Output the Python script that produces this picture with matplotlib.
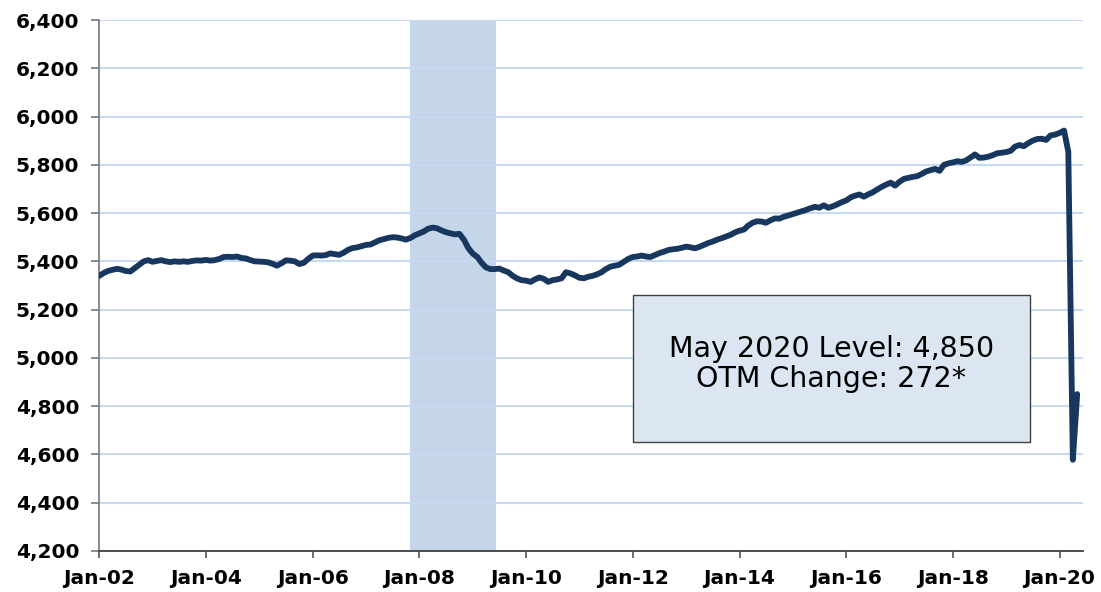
import numpy as np
import pandas as pd
import matplotlib
matplotlib.use('Agg')
import matplotlib.pyplot as plt
import matplotlib.dates as mdates
from matplotlib.patches import Rectangle

# Monthly employment level (thousands), Jan 2002 - May 2020
values = [
    5340, 5352, 5360, 5365, 5369, 5366, 5360, 5358, 5372, 5385, 5400, 5405,   # 2002
    5398, 5402, 5405, 5400, 5397, 5400, 5398, 5400, 5398, 5402, 5404, 5403,   # 2003
    5406, 5403, 5405, 5410, 5418, 5419, 5418, 5420, 5414, 5412, 5405, 5400,   # 2004
    5399, 5398, 5396, 5390, 5382, 5392, 5404, 5403, 5400, 5389, 5394, 5410,   # 2005
    5424, 5425, 5424, 5426, 5433, 5430, 5427, 5436, 5448, 5455, 5458, 5463,   # 2006
    5468, 5470, 5478, 5487, 5492, 5497, 5500, 5499, 5495, 5490, 5497, 5508,   # 2007
    5516, 5524, 5535, 5540, 5537, 5528, 5521, 5516, 5512, 5514, 5490, 5455,   # 2008
    5432, 5418, 5395, 5375, 5368, 5368, 5370, 5362, 5355, 5340, 5329, 5322,   # 2009
    5320, 5315, 5325, 5333, 5328, 5315, 5322, 5325, 5330, 5355, 5350, 5342,   # 2010
    5332, 5330, 5336, 5340, 5346, 5355, 5368, 5378, 5382, 5386, 5398, 5410,   # 2011
    5418, 5420, 5424, 5420, 5418, 5426, 5434, 5440, 5447, 5450, 5452, 5456,   # 2012
    5461, 5458, 5454, 5460, 5468, 5476, 5482, 5490, 5496, 5503, 5510, 5520,   # 2013
    5527, 5532, 5548, 5560, 5566, 5565, 5560, 5570, 5578, 5577, 5585, 5590,   # 2014
    5596, 5602, 5607, 5613, 5620, 5626, 5622, 5632, 5622, 5628, 5636, 5645,   # 2015
    5652, 5665, 5672, 5677, 5668, 5678, 5686, 5698, 5709, 5718, 5726, 5714,   # 2016
    5730, 5742, 5746, 5750, 5753, 5762, 5772, 5778, 5783, 5775, 5800, 5806,   # 2017
    5810, 5815, 5812, 5818, 5830, 5843, 5829, 5830, 5834, 5840, 5848, 5850,   # 2018
    5853, 5858, 5875, 5882, 5877, 5890, 5900, 5907, 5908, 5903, 5922, 5925,   # 2019
    5932, 5942, 5854, 4578, 4850,                                             # 2020
]
dates = pd.date_range('2002-01-01', periods=len(values), freq='MS')

rec_start = pd.Timestamp('2007-11-01')
rec_end = pd.Timestamp('2009-06-10')

y_ticks = list(range(4200, 6401, 200))
x_ticks = pd.date_range('2002-01-01', '2020-01-01', freq='2YS')

box_text = "May 2020 Level: 4,850\nOTM Change: 272*"

line_color = '#17375e'
grid_color = '#c8daf0'
shade_color = '#c6d6ea'
box_color = '#dce6f2'

plt.rcParams['font.family'] = ['DejaVu Sans']

fig = plt.figure(figsize=(11.01, 5.92), dpi=100)
ax = fig.add_axes([0.0902, 0.0693, 0.8935, 0.8969])

# recession band sits under the gridlines
ax.axvspan(rec_start, rec_end, color=shade_color, zorder=0.2, lw=0)
ax.yaxis.grid(True, color=grid_color, lw=1.5)
ax.set_axisbelow(True)

ax.plot(dates, values, color=line_color, lw=4.2, zorder=3,
        solid_joinstyle='round', solid_capstyle='round')

ax.set_ylim(4200, 6400)
ax.set_xlim(pd.Timestamp('2002-01-01'), pd.Timestamp('2020-06-10'))
ax.set_yticks(y_ticks)
ax.set_yticklabels([f'{v:,}' for v in y_ticks])
ax.set_xticks(x_ticks)
ax.xaxis.set_major_formatter(mdates.DateFormatter('%b-%y'))

for s in ['top', 'right']:
    ax.spines[s].set_visible(False)
ax.spines['left'].set_color('#808080')
ax.spines['left'].set_linewidth(1.3)
ax.spines['bottom'].set_color('#404040')
ax.spines['bottom'].set_linewidth(1.3)

ax.tick_params(axis='y', length=5.5, width=1.3, color='#808080', pad=9,
               labelsize=14.5)
ax.tick_params(axis='x', length=5, width=1.3, color='#606060', pad=8,
               labelsize=14.5)
for lab in ax.get_xticklabels() + ax.get_yticklabels():
    lab.set_fontweight('bold')

# text box with level and over-the-month change
ax.add_patch(Rectangle((0.5425, 0.2053), 0.4035, 0.2768, transform=ax.transAxes,
                       facecolor=box_color, edgecolor='#404040', lw=1.0, zorder=4))
ax.text(0.744, 0.352, box_text, transform=ax.transAxes, ha='center', va='center',
        fontsize=20.5, linespacing=1.1, zorder=5, color='black')

plt.savefig('out.png', dpi=100)
